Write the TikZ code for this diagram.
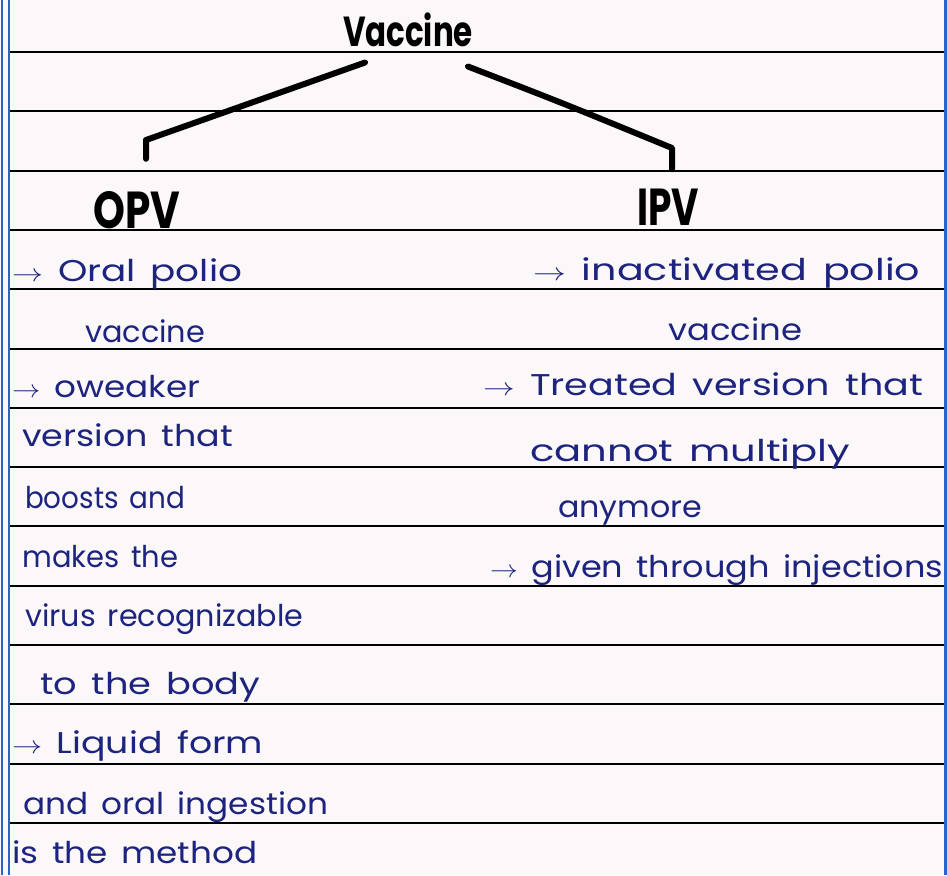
\documentclass[tikz,border=0pt]{standalone}
\usepackage{fontspec}
\setmainfont{Poppins}
\definecolor{ink}{RGB}{28,36,128}
\definecolor{paper}{RGB}{252,247,249}
\definecolor{margin}{RGB}{40,100,205}
\newcommand{\fitw}[2]{\resizebox{#1pt}{\height}{\spaceskip=0.4em\relax#2}}
\tikzset{
  rule/.style={line width=2pt, black},
  edge/.style={line width=2.2pt, margin},
  note/.style={anchor=base west, inner sep=0pt, text=ink, font=\fontsize{30}{32}\selectfont},
  head/.style={anchor=base, inner sep=0pt, font=\fontsize{52}{54}\selectfont\bfseries},
  title/.style={anchor=base, inner sep=0pt, font=\fontsize{42}{44}\selectfont\bfseries},
  branch/.style={line width=6pt, line cap=round, line join=round},
}
\begin{document}
\begin{tikzpicture}[x=1pt,y=-1pt]
\fill[paper] (0,0) rectangle (947,875);
\useasboundingbox (0,0) rectangle (947,875);
% ruled lines and margins
\foreach \k in {0,...,13}
  \draw[rule] (10,52+59.3*\k) -- (945,52+59.3*\k);
\draw[edge] (2,0) -- (2,875);
\draw[edge] (9,0) -- (9,875);
\draw[edge] (945.5,0) -- (945.5,875);
% headings
\node[title] (vaccine) at (408,47) {\fitw{130}{Vaccine}};
\node[head] (opv) at (137,228) {\scalebox{0.78}[1]{OPV}};
\node[head] (ipv) at (668,225) {\scalebox{0.72}[1]{IPV}};
\coordinate (lbend) at (146,140);
\coordinate (rbend) at (672,148);
\draw[branch] ([shift={(-43,15)}]vaccine.south) -- (lbend) -- ([yshift=32pt]opv.north -| lbend);
\draw[branch] ([shift={(60,19)}]vaccine.south) .. controls (560,102) .. (rbend) -- ([yshift=19pt]ipv.north -| rbend);
% OPV notes
\node[note] (o1) at (12,281) {\fitw{230}{$\to$ Oral polio}};
\node[note] (o2) at (85,342) {\fitw{120}{vaccine}};
\node[note] (o3) at (12,397) {\fitw{188}{$\to$ oweaker}};
\node[note] (o4) at (22,446) {\fitw{211}{version that}};
\node[note] (o5) at (25,508) {\fitw{160}{boosts and}};
\node[note] (o6) at (22,567) {\fitw{156}{makes the}};
\node[note] (o7) at (25,626) {\fitw{278}{virus recognizable}};
\node[note] (o8) at (40,694) {\fitw{220}{to the body}};
\node[note] (o9) at (12,753) {\fitw{251}{$\to$ Liquid form}};
\node[note] (o10) at (23,814) {\fitw{305}{and oral ingestion}};
\node[note] (o11) at (12,863) {\fitw{245}{is the method}};
% IPV notes
\node[note] (i1) at (533,280) {\fitw{387}{$\to$ inactivated polio}};
\node[note] (i2) at (668,340) {\fitw{134}{vaccine}};
\node[note] (i3) at (483,395) {\fitw{440}{$\to$ Treated version that}};
\node[note] (i4) at (530,461) {\fitw{320}{cannot multiply}};
\node[note] (i5) at (558,517) {\fitw{144}{anymore}};
\node[note] (i6) at (490,577) {\fitw{453}{$\to$ given through injections}};
\end{tikzpicture}
\end{document}
